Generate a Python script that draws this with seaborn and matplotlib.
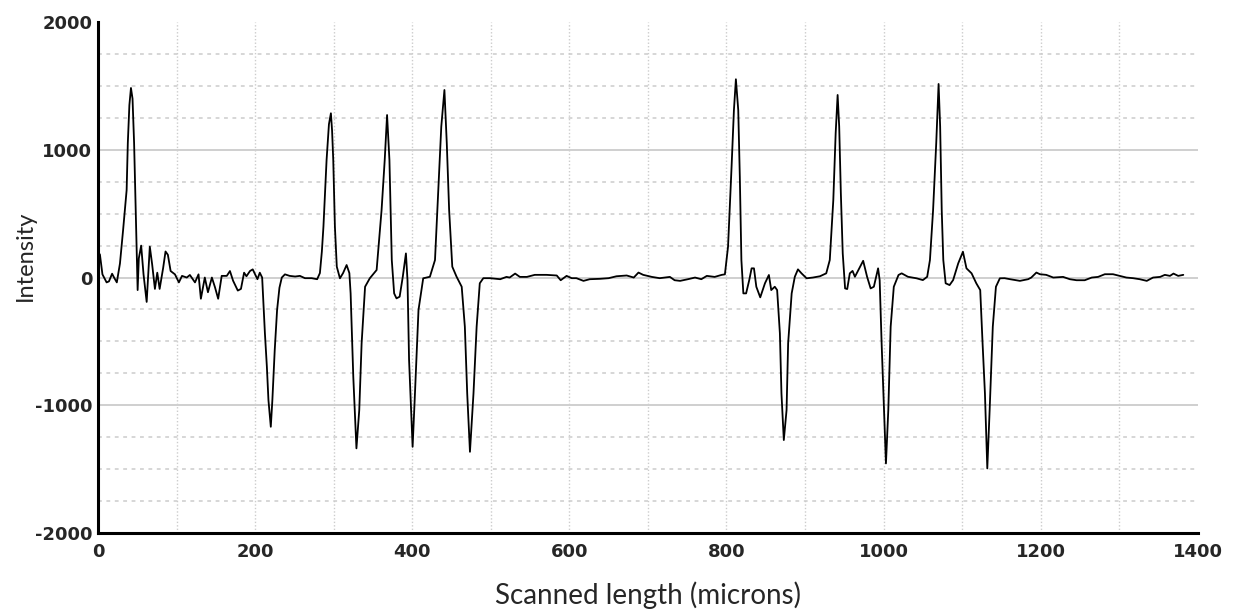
import matplotlib
matplotlib.use("Agg")
import matplotlib.pyplot as plt
import seaborn as sns
import pandas as pd
from matplotlib.ticker import MultipleLocator

# ---- data ----
scan_x = [0, 2.5, 5.7, 11, 14, 18, 20.5, 24, 28, 32, 36.5, 38, 40, 42, 44, 46, 48, 49, 50.5, 52,
          55, 58, 62, 66, 69, 72.5, 75.5, 78.5, 83, 86, 89, 92.5, 98, 103, 107, 113, 117, 123.5, 128, 131,
          136, 140, 145, 149, 153, 157.5, 164, 168, 172, 178, 182, 186, 189, 193.5, 197, 200, 203, 206, 209, 212.5,
          215, 217, 220, 222, 225, 228, 231, 234, 238, 244, 251, 257, 263.5, 272, 279, 282.5, 285, 287, 291, 294,
          296.5, 298, 299.5, 301.6, 304, 308, 312, 316.5, 320, 321.6, 325, 329, 332.6, 335.6, 340, 346, 354.7, 361, 365, 368,
          371, 374, 377, 380, 384, 388, 392, 394, 396, 400.5, 403.5, 408, 414, 422.5, 429, 433, 437, 441, 444, 447,
          451, 456.5, 463, 467, 470, 473.5, 478, 482, 486, 490.5, 499, 512, 520, 524, 531, 537, 546, 556, 571, 584,
          589, 596.5, 603, 609, 618, 626, 639, 650, 660, 673, 682, 688, 694, 705, 715, 728, 734, 741, 751, 760,
          768, 775, 785, 794, 798, 802, 806.5, 809.5, 812, 815, 817, 819, 821.5, 825, 829, 832, 835, 838, 843, 849,
          854, 857, 861.5, 864.5, 868, 870, 873, 876.5, 878.5, 883, 887, 891, 895.5, 902, 910, 919, 927, 931.5, 936, 939,
          941.5, 943.5, 945.6, 948, 951, 953.7, 957, 960.5, 963.5, 968, 974, 979, 983.5, 987.6, 993, 995, 997.5, 1000.5, 1003, 1006,
          1009, 1013, 1019, 1023, 1031, 1042, 1050, 1055.5, 1059, 1063, 1067, 1070, 1072, 1074, 1076, 1079, 1084, 1088.5, 1095, 1101,
          1105.5, 1112, 1118, 1123, 1126, 1129, 1132, 1135, 1139, 1143, 1148, 1154, 1161, 1173.5, 1184, 1188, 1194.5, 1199, 1207, 1216,
          1228.5, 1237, 1245.6, 1256, 1265, 1273, 1281.6, 1292, 1300.6, 1309, 1317.6, 1326, 1335, 1343, 1352, 1358, 1364.5, 1369, 1375, 1381.5]

intensity = [200, 180, 25, -38, -30, 30, 0, -38, 110, 372, 685, 1053, 1350, 1484, 1400, 1053, 552, 294, -98, 150,
             250, 25, -191, 242, 102, -89, 38, -89, 76, 204, 178, 51, 25, -38, 13, 0, 20, -38, 25, -166,
             0, -115, 0, -77, -166, 13, 13, 51, -25, -102, -89, 38, 10, 51, 64, 25, -13, 38, 0, -436,
             -698, -959, -1168, -959, -568, -254, -80, 0, 25, 13, 8, 13, -5, -5, -13, 35, 204, 398, 920, 1200,
             1286, 1150, 920, 398, 85, -6, 35, 98, 35, -124, -777, -1337, -1037, -515, -72, -6, 59, 528, 920, 1272,
             920, 137, -124, -163, -150, 6, 189, -20, -646, -1325, -907, -254, -6, 6, 137, 659, 1181, 1468, 1051, 528,
             85, 6, -72, -385, -907, -1364, -907, -385, -45, -5, -5, -13, 5, 0, 31, 5, 5, 21, 21, 16,
             -21, 13, -5, -5, -26, -13, -10, -5, 10, 16, 0, 39, 21, 5, -5, 5, -21, -26, -13, 0,
             -13, 13, 5, 21, 25, 241, 867, 1311, 1552, 1311, 789, 137, -124, -124, -20, 72, 72, -72, -155, -45,
             20, -98, -72, -98, -437, -907, -1272, -1037, -515, -124, 6, 64, 33, -6, 0, 10, 33, 137, 607, 1129,
             1429, 1181, 659, 189, -85, -90, 33, 52, 6, 59, 131, 6, -85, -72, 72, -20, -515, -1037, -1455, -1037,
             -385, -72, 20, 33, 6, -6, -20, 6, 137, 528, 1051, 1515, 1181, 528, 137, -45, -59, -20, 111, 202,
             72, 33, -45, -98, -515, -907, -1494, -1037, -385, -72, -6, -5, -13, -26, -13, 0, 39, 26, 21, 0,
             5, -13, -21, -21, 0, 5, 26, 26, 13, 0, -5, -13, -26, 0, 5, 21, 13, 31, 13, 21]

x_ticks = [0, 200, 400, 600, 800, 1000, 1200, 1400]
y_ticks = [-2000, -1000, 0, 1000, 2000]
x_label = "Scanned length (microns)"
y_label = "Intensity"

# ---- plot ----
sns.set_style("white")
plt.rcParams["font.family"] = ["DejaVu Sans"]

fig = plt.figure(figsize=(12.4, 6.12), dpi=100)
ax = fig.add_axes([0.079, 0.129, 0.887, 0.835])

df = pd.DataFrame({"x": scan_x, "y": intensity})
sns.lineplot(data=df, x="x", y="y", ax=ax, color="black", linewidth=1.3,
             estimator=None, sort=False, zorder=3)

ax.set_xlim(0, 1400)
ax.set_ylim(-2000, 2000)
ax.set_xticks(x_ticks)
ax.set_yticks(y_ticks)
ax.xaxis.set_minor_locator(MultipleLocator(100))
ax.yaxis.set_minor_locator(MultipleLocator(250))

ax.set_xticklabels([str(t) for t in x_ticks], fontsize=13, fontweight="bold")
ax.set_yticklabels([str(t) for t in y_ticks], fontsize=13, fontweight="bold")
ax.tick_params(axis="both", which="both", length=0)
ax.tick_params(axis="x", pad=7)
ax.tick_params(axis="y", pad=4)

# grid
ax.yaxis.grid(True, which="major", color="#cfcfcf", linewidth=1.4, linestyle="-", zorder=0)
ax.yaxis.grid(True, which="minor", color="#cccccc", linewidth=1.1, linestyle=(0, (2.5, 3)), zorder=0)
ax.xaxis.grid(True, which="both", color="#cccccc", linewidth=1.0, linestyle=(0, (1, 1.5)), zorder=0)
ax.set_axisbelow(True)
for gl, t in zip(ax.yaxis.get_gridlines(), y_ticks):
    if t in (2000, -2000):
        gl.set_visible(False)
for gl, t in zip(ax.xaxis.get_gridlines(), x_ticks):
    if t in (0, 1400):
        gl.set_visible(False)

for side in ("top", "right"):
    ax.spines[side].set_visible(False)
for side in ("left", "bottom"):
    ax.spines[side].set_color("black")
    ax.spines[side].set_linewidth(2.2)

ax.set_xlabel(x_label, fontsize=20, family=["Lato", "DejaVu Sans"], labelpad=15)
ax.set_ylabel(y_label, fontsize=17, family=["Lato", "DejaVu Sans"])
ax.yaxis.set_label_coords(-0.056, 0.542)

fig.savefig("out.png", dpi=100, facecolor="white")
